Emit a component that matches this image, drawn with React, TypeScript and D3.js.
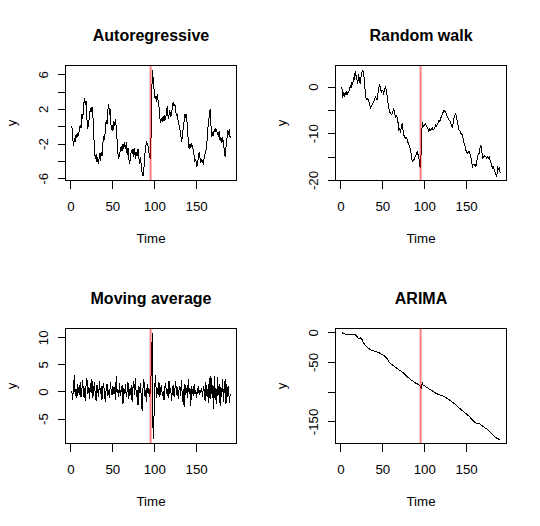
import React, { useEffect, useRef } from 'react';
import * as d3 from 'd3';

// time index 1..190, break marked at t = 95
const time = d3.range(1, 191);
const breakTime = 95;

const titles = ['Autoregressive', 'Random walk', 'Moving average', 'ARIMA'];

const arValues = [
  0.1, -1.2, -2.2, -1.4, -1.6, -0.9, -1.3, -0.7, -1.0, -0.3,
  0.2, -0.1, 1.5, 0.9, 2.2, 3.3, 2.5, 3.0, 0.9, -0.3,
  0.6, 1.0, 2.2, 1.7, 2.3, 1.6, -0.4, -2.8, -3.7, -3.2,
  -4.1, -3.5, -4.3, -3.0, -3.9, -2.9, -3.4, -2.0, -1.1, -1.5,
  -0.4, 0.8, 0.3, 1.9, 2.6, 1.4, 2.0, -0.4, 0.2, -0.5,
  0.7, 0.1, 0.9, -0.1, -1.5, -3.0, -3.7, -3.1, -2.7, -2.2,
  -2.8, -2.0, -2.5, -1.8, -2.6, -1.8, -3.2, -2.4, -3.6, -4.3,
  -3.5, -2.7, -3.1, -2.6, -3.5, -2.4, -3.7, -2.9, -3.4, -2.6,
  -3.6, -4.3, -3.5, -4.6, -5.45, -5.7, -4.9, -3.3, -2.6, -1.6,
  -1.9, -2.2, -3.0, -3.5, -3.7, 0.9, 6.57, 5.7, 4.5, 3.4,
  3.5, 2.9, 3.8, 3.0, 2.4, 1.1, 0.5, 1.0, 0.6, 1.2,
  0.7, 1.3, 0.8, 1.8, 2.4, 0.9, 1.4, 1.9, 1.1, 1.6,
  2.2, 2.9, 2.4, 2.6, 1.8, 1.2, 1.5, 0.5, 0.2, -0.25,
  -0.9, -1.8, -1.0, -0.1, 0.6, 1.5, 1.0, 1.5, -0.4, -1.6,
  -2.5, -2.0, -2.4, -1.9, -2.3, -2.7, -3.3, -4.0, -3.7, -4.6,
  -4.3, -3.5, -2.9, -3.6, -4.2, -3.7, -4.0, -4.2, -3.6, -3.1,
  -2.7, -2.3, -0.4, 0.3, 1.2, 2.0, 0.3, -1.2, -0.7, -0.9,
  -0.3, -0.6, -0.2, -0.5, -0.8, -1.0, -0.44, -1.6, -1.2, -1.9,
  -1.2, -2.0, -2.7, -3.5, -2.4, -1.6, -0.4, -0.9, -0.25, -1.3,
];

const rwValues = [
  0.1, -2.3, -1.4, -1.8, -1.2, -1.6, -1.0, -1.5, -1.1, -0.6,
  0.3, -0.2, 1.0, 0.4, 2.1, 1.5, 3.5, 2.4, 1.6, 0.7,
  2.8, 1.5, 0.7, 2.4, 3.2, 3.7, 2.5, 1.8, -1.4, -2.6,
  -2.8, -2.4, -3.0, -3.3, -4.6, -4.2, -3.9, -3.5, -3.2, -2.6,
  -2.1, -2.5, -2.8, -1.4, -0.35, 0.7, -0.2, -1.1, -0.6, -0.8,
  -1.4, -0.7, 0.0, -0.6, -1.8, -3.2, -4.6, -5.2, -5.7, -5.9,
  -5.7, -5.2, -4.6, -5.5, -6.4, -6.2, -6.4, -7.5, -9.2, -9.0,
  -9.5, -8.6, -7.8, -9.1, -10.3, -10.7, -11.0, -10.8, -11.3, -11.9,
  -12.4, -12.9, -13.5, -14.6, -16.0, -15.8, -15.6, -15.1, -14.9, -14.2,
  -13.8, -14.5, -15.2, -17.0, -17.4, -12.1, -7.4, -8.2, -8.5, -7.9,
  -7.8, -8.3, -8.6, -9.1, -9.5, -9.0, -9.3, -8.9, -8.8, -9.2,
  -9.0, -8.6, -8.1, -8.4, -7.9, -7.6, -7.1, -7.4, -6.7, -6.2,
  -5.7, -5.4, -5.0, -5.2, -5.3, -5.9, -6.4, -6.7, -7.1, -7.3,
  -7.6, -8.3, -8.8, -7.6, -6.5, -6.1, -5.7, -6.6, -7.4, -8.5,
  -9.2, -9.4, -9.9, -10.1, -10.3, -11.2, -12.1, -12.6, -13.5, -13.9,
  -14.2, -14.0, -13.8, -14.4, -14.9, -16.0, -17.0, -16.6, -16.8, -16.5,
  -17.0, -16.0, -14.9, -14.4, -14.2, -13.0, -12.4, -13.6, -15.2, -15.0,
  -14.7, -14.9, -14.9, -15.3, -15.0, -15.2, -15.0, -15.8, -16.3, -16.9,
  -17.4, -17.1, -17.7, -18.3, -18.8, -19.1, -17.0, -17.6, -17.4, -18.4,
];

const maValues = [
  0.2, -1.5, 1.1, 3.1, -0.8, 0.6, -1.2, 1.4, 0.3, -0.6,
  1.8, -1.0, 0.5, 2.2, -0.9, 0.7, -1.7, 1.2, 2.6, -0.4,
  0.9, -1.3, 1.6, -0.2, 2.3, -1.1, 0.4, 1.9, -0.7, -1.6,
  1.3, 0.1, -0.9, 2.1, -0.3, 1.0, -1.4, 0.8, 1.7, -0.5,
  -1.8, 0.6, 1.4, -0.8, 0.3, -1.2, 1.9, 0.2, -0.6, 1.1,
  -0.4, 0.9, -1.5, 3.0, -0.2, 0.5, -1.0, 1.6, -0.7, 0.4,
  1.2, -2.3, 0.7, -0.3, 1.5, -0.9, 0.2, 1.8, -1.3, 0.6,
  -0.5, 1.3, -1.9, 0.8, 2.0, -0.6, 2.5, -0.9, 0.4, -2.4,
  1.1, -0.2, 1.7, -1.6, -3.5, 0.9, 2.4, -0.8, 0.3, -1.9,
  1.5, -0.4, 0.8, -0.9, 0.6, 5.0, 10.93, -8.73, -5.1, 1.0,
  3.1, -1.2, 0.7, -0.5, 1.8, -1.0, 0.4, 1.3, -0.8, 0.2,
  -1.5, 0.9, 1.6, -0.3, 0.6, -1.1, 2.0, -0.4, 0.8, -1.7,
  0.3, 1.2, -0.9, 0.5, 2.1, -0.6, 0.9, -1.3, 0.4, 1.1,
  -0.7, 2.2, -1.8, 0.6, -2.8, 1.4, -0.5, 0.8, -1.2, 2.3,
  -0.3, 0.7, -2.5, 1.0, 0.2, -0.8, 1.5, -0.4, 0.3, -1.1,
  0.6, 0.9, -0.5, 0.4, -0.2, 0.7, -0.9, 1.0, 0.3, -1.6,
  1.8, -0.7, 0.5, -2.0, 2.6, -1.3, 3.0, -0.4, 1.2, -3.2,
  2.9, -1.5, 0.8, -2.3, 2.7, -0.6, 1.4, -2.6, 0.9, -1.0,
  2.4, -1.8, 0.6, 2.3, -2.2, 1.5, -0.9, 1.1, -2.0, -0.4,
];

const arimaValues = [
  0, -0.6, -1.1, -1.5, -2.0, -2.4, -2.8, -2.9, -3.1, -3.0,
  -3.2, -3.4, -3.3, -3.1, -3.4, -3.2, -3.3, -4.6, -6.0, -7.9,
  -10.0, -9.1, -8.3, -9.5, -11.0, -14.2, -17.0, -18.8, -21.0, -22.6,
  -24.0, -25.5, -26.7, -27.4, -28.3, -29.0, -29.5, -30.2, -30.6, -31.0,
  -31.3, -31.9, -32.2, -32.9, -33.6, -34.1, -35.0, -35.8, -36.4, -37.0,
  -37.8, -39.1, -40.6, -41.9, -43.3, -46.0, -48.9, -50.2, -51.7, -52.6,
  -53.5, -54.7, -55.6, -56.9, -57.8, -58.7, -60.0, -61.2, -62.1, -63.0,
  -63.9, -65.3, -66.2, -67.0, -68.3, -69.9, -71.2, -72.4, -73.9, -75.0,
  -75.9, -77.3, -78.3, -79.6, -80.7, -81.5, -82.8, -83.7, -84.6, -85.2,
  -86.0, -86.9, -88.1, -89.4, -90.6, -93.3, -83.9, -87.8, -88.9, -89.7,
  -90.6, -91.5, -92.4, -93.2, -94.4, -95.0, -95.9, -96.8, -97.8, -98.7,
  -99.6, -100.8, -101.7, -102.3, -103.0, -103.8, -104.4, -104.9, -105.3, -105.6,
  -106.1, -106.8, -107.4, -108.1, -108.9, -109.8, -110.6, -111.9, -112.8, -113.9,
  -114.8, -116.1, -117.2, -118.0, -119.1, -120.2, -121.1, -122.6, -124.0, -125.4,
  -126.7, -127.8, -128.9, -130.0, -131.1, -132.5, -133.6, -134.9, -136.1, -137.0,
  -138.2, -139.5, -140.6, -142.3, -143.9, -145.6, -147.2, -148.5, -149.6, -150.8,
  -151.7, -152.0, -152.2, -152.5, -152.8, -153.9, -155.1, -156.0, -157.2, -158.1,
  -159.0, -160.2, -161.1, -162.0, -163.2, -164.5, -165.6, -167.0, -168.4, -169.8,
  -171.1, -172.5, -174.0, -175.3, -176.7, -177.6, -178.3, -178.8, -179.0, -179.2,
];

const xTicks = [0, 50, 100, 150];

const yTicksAr = [-6, -4, -2, 0, 2, 4, 6];
const yLabelsAr = [-6, -2, 2, 6];
const yTicksRw = [-20, -15, -10, -5, 0];
const yLabelsRw = [-20, -10, 0];
const yTicksMa = [-5, 0, 5, 10];
const yLabelsMa = [-5, 0, 5, 10];
const yTicksArima = [-150, -100, -50, 0];
const yLabelsArima = [-150, -50, 0];

const seriesList = [arValues, rwValues, maValues, arimaValues];
const yTickList = [yTicksAr, yTicksRw, yTicksMa, yTicksArima];
const yLabelList = [yLabelsAr, yLabelsRw, yLabelsMa, yLabelsArima];

const W = 540;
const H = 526;
const FONT = "'Liberation Sans', Arial, Helvetica, sans-serif";

// R style axis range: data extent stretched by 4% on each side
const padExtent = (vals: number[]): [number, number] => {
  const [lo, hi] = d3.extent(vals) as [number, number];
  const d = (hi - lo) * 0.04;
  return [lo - d, hi + d];
};

const App: React.FC = () => {
  const svgRef = useRef<SVGSVGElement | null>(null);

  useEffect(() => {
    const svg = d3.select(svgRef.current);
    svg.selectAll('*').remove();

    const left = 65.5, right = 236.5, top = 65.5, bottom = 180.5;
    const midX = (left + right) / 2;
    const midY = (top + bottom) / 2;

    seriesList.forEach((values, i) => {
      const col = i % 2;
      const row = Math.floor(i / 2);
      const g = svg.append('g')
        .attr('transform', `translate(${col * 270},${row * 263})`);

      const x = d3.scaleLinear().domain(padExtent(time)).range([left, right]);
      const y = d3.scaleLinear().domain(padExtent(values)).range([bottom, top]);

      const line = d3.line<number>()
        .x((_, j) => x(time[j]))
        .y(d => y(d));

      g.append('path')
        .attr('d', line(values))
        .attr('fill', 'none')
        .attr('stroke', '#000')
        .attr('stroke-width', 1)
        .attr('shape-rendering', 'crispEdges');

      // intervention marker
      g.append('line')
        .attr('x1', x(breakTime)).attr('x2', x(breakTime))
        .attr('y1', top).attr('y2', bottom)
        .attr('stroke', 'rgba(255,0,0,0.5)')
        .attr('stroke-width', 2);

      g.append('rect')
        .attr('x', left).attr('y', top)
        .attr('width', right - left).attr('height', bottom - top)
        .attr('fill', 'none').attr('stroke', '#000').attr('stroke-width', 1)
        .attr('shape-rendering', 'crispEdges');

      // x axis
      g.append('line')
        .attr('x1', x(xTicks[0])).attr('x2', x(xTicks[xTicks.length - 1]))
        .attr('y1', bottom).attr('y2', bottom)
        .attr('stroke', '#000').attr('shape-rendering', 'crispEdges');
      xTicks.forEach(t => {
        g.append('line')
          .attr('x1', x(t)).attr('x2', x(t))
          .attr('y1', bottom).attr('y2', bottom + 8)
          .attr('stroke', '#000').attr('shape-rendering', 'crispEdges');
        g.append('text')
          .attr('x', x(t)).attr('y', 211)
          .attr('text-anchor', 'middle')
          .attr('font-family', FONT).attr('font-size', 13.3)
          .text(t);
      });

      // y axis
      const yt = yTickList[i];
      g.append('line')
        .attr('x1', left).attr('x2', left)
        .attr('y1', y(yt[0])).attr('y2', y(yt[yt.length - 1]))
        .attr('stroke', '#000').attr('shape-rendering', 'crispEdges');
      yt.forEach(v => {
        g.append('line')
          .attr('x1', left - 8).attr('x2', left)
          .attr('y1', y(v)).attr('y2', y(v))
          .attr('stroke', '#000').attr('shape-rendering', 'crispEdges');
      });
      yLabelList[i].forEach(v => {
        g.append('text')
          .attr('transform', `translate(48,${y(v)}) rotate(-90)`)
          .attr('text-anchor', 'middle')
          .attr('font-family', FONT).attr('font-size', 13.3)
          .text(v);
      });

      g.append('text')
        .attr('x', midX).attr('y', 40.5)
        .attr('text-anchor', 'middle')
        .attr('font-family', FONT).attr('font-size', 16).attr('font-weight', 'bold')
        .text(titles[i]);

      g.append('text')
        .attr('x', midX).attr('y', 243)
        .attr('text-anchor', 'middle')
        .attr('font-family', FONT).attr('font-size', 13.3)
        .text('Time');

      g.append('text')
        .attr('transform', `translate(15.5,${midY}) rotate(-90)`)
        .attr('text-anchor', 'middle')
        .attr('font-family', FONT).attr('font-size', 13.3)
        .text('y');
    });
  }, []);

  return (
    <svg
      ref={svgRef}
      width={W}
      height={H}
      style={{ position: 'absolute', left: 0, top: 0, background: '#fff' }}
    />
  );
};

export default App;
